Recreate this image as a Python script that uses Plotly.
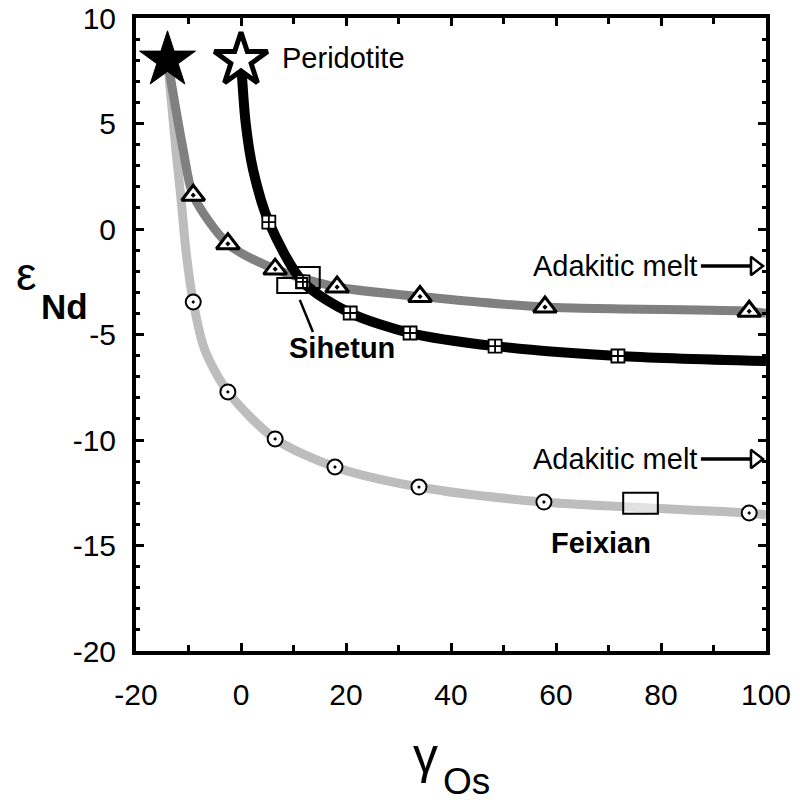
import plotly.graph_objects as go

# ---------------- data ----------------
# black mixing curve (starts at open star "Peridotite")
black_line_x = [0, 0.9, 2.3, 5.3, 11.8, 20.8, 32.2, 48.4, 71.8, 100]
black_line_y = [8, 5.0, 2.8, 0.33, -2.51, -3.98, -4.93, -5.55, -6.02, -6.26]
black_mark_x = [5.3, 11.8, 20.8, 32.2, 48.4, 71.8]
black_mark_y = [0.33, -2.51, -3.98, -4.93, -5.55, -6.02]

# dark grey mixing curve (triangles)
dark_line_x = [-14, -11.0, -9.1, -2.5, 6.5, 18.3, 34.1, 57.9, 96.8, 100]
dark_line_y = [8, 3.74, 1.6, -0.7, -1.9, -2.75, -3.2, -3.7, -3.9, -4.0]
dark_mark_x = [-9.1, -2.5, 6.5, 18.3, 34.1, 57.9, 96.8]
dark_mark_y = [1.6, -0.7, -1.9, -2.75, -3.2, -3.7, -3.9]

# light grey mixing curve (circles)
light_line_x = [-14, -12.4, -11.4, -10.5, -9.1, -6.9, -2.5, 6.5, 17.9, 33.9, 57.7, 96.8, 100]
light_line_y = [8, 3.74, 1.37, -1.0, -3.46, -5.73, -7.72, -9.95, -11.28, -12.23, -12.94, -13.46, -13.55]
light_mark_x = [-9.1, -2.5, 6.5, 17.9, 33.9, 57.7, 96.8]
light_mark_y = [-3.46, -7.72, -9.95, -11.28, -12.23, -12.94, -13.46]

# end-members (stars)
filled_star_x = [-14]
filled_star_y = [8]
open_star_x = [0]
open_star_y = [8]

# sample fields
sihetun_x0 = [10.5, 6.9]
sihetun_x1 = [15.0, 12.6]
sihetun_y0 = [-1.8, -2.32]
sihetun_y1 = [-2.8, -3.03]
feixian_x0, feixian_x1 = 72.8, 79.4
feixian_y0, feixian_y1 = -12.5, -13.5

# adakitic melt arrows
arrow_y = [-1.75, -10.9]

x_ticks = [-20, 0, 20, 40, 60, 80, 100]
x_tick_text = ["-20", "0", "20", "40", "60", "80", "100"]
y_ticks = [-20, -15, -10, -5, 0, 5, 10]
y_tick_text = ["-20", "-15", "-10", "-5", "0", "5", "10"]

FONT = "Liberation Sans, Arial, sans-serif"

fig = go.Figure()

fig.add_trace(go.Scatter(x=light_line_x, y=light_line_y, mode="lines",
                         line=dict(color="#bdbdbd", width=9, shape="spline", smoothing=0.8),
                         hoverinfo="skip"))
fig.add_trace(go.Scatter(x=dark_line_x, y=dark_line_y, mode="lines",
                         line=dict(color="#808080", width=9, shape="spline", smoothing=0.8),
                         hoverinfo="skip"))
fig.add_trace(go.Scatter(x=black_line_x, y=black_line_y, mode="lines",
                         line=dict(color="black", width=10, shape="spline", smoothing=0.8),
                         hoverinfo="skip"))

fig.add_trace(go.Scatter(x=light_mark_x, y=light_mark_y, mode="markers",
                         marker=dict(symbol="circle-dot", size=15, color="white",
                                     line=dict(color="black", width=2))))
fig.add_trace(go.Scatter(x=dark_mark_x, y=dark_mark_y, mode="markers",
                         marker=dict(symbol="triangle-up-dot", size=20, color="white",
                                     line=dict(color="black", width=3))))
fig.add_trace(go.Scatter(x=black_mark_x, y=black_mark_y, mode="markers",
                         marker=dict(symbol="square-cross", size=13, color="white",
                                     line=dict(color="black", width=1.8))))

fig.add_trace(go.Scatter(x=filled_star_x, y=filled_star_y, mode="markers",
                         marker=dict(symbol="star", size=42, color="black",
                                     line=dict(color="black", width=1))))
fig.add_trace(go.Scatter(x=open_star_x, y=open_star_y, mode="markers",
                         marker=dict(symbol="star", size=40, color="white",
                                     line=dict(color="black", width=5))))

# arrows "Adakitic melt ->"
for ay in arrow_y:
    fig.add_trace(go.Scatter(x=[87.6, 97.0], y=[ay, ay], mode="lines",
                             line=dict(color="black", width=3.5), hoverinfo="skip"))
    fig.add_trace(go.Scatter(x=[97.9], y=[ay], mode="markers",
                             marker=dict(symbol="triangle-right-open", size=16,
                                         color="black", line=dict(color="black", width=2.5)),
                             hoverinfo="skip"))
    fig.add_annotation(x=87.3, y=ay, xref="x", yref="y", text="Adakitic melt",
                       showarrow=False, xanchor="right", yanchor="middle",
                       font=dict(family=FONT, size=29, color="black"))

# sample boxes
for x0, x1, y0, y1 in zip(sihetun_x0, sihetun_x1, sihetun_y0, sihetun_y1):
    fig.add_shape(type="rect", xref="x", yref="y", x0=x0, x1=x1, y0=y0, y1=y1,
                  line=dict(color="black", width=2), fillcolor="rgba(0,0,0,0)")
fig.add_shape(type="line", xref="x", yref="y", x0=11.2, y0=-3.36, x1=13.7, y1=-4.88,
              line=dict(color="black", width=2.5))
fig.add_shape(type="rect", xref="x", yref="y", x0=feixian_x0, x1=feixian_x1,
              y0=feixian_y0, y1=feixian_y1,
              line=dict(color="black", width=2), fillcolor="rgba(255,255,255,0.55)")

fig.add_annotation(x=7.4, y=8.1, xref="x", yref="y", text="Peridotite", showarrow=False,
                   xanchor="left", yanchor="middle",
                   font=dict(family=FONT, size=29, color="black"))
fig.add_annotation(x=19.2, y=-5.64, xref="x", yref="y", text="<b>Sihetun</b>", showarrow=False,
                   xanchor="center", yanchor="middle",
                   font=dict(family=FONT, size=29, color="black"))
fig.add_annotation(x=68.6, y=-14.9, xref="x", yref="y", text="<b>Feixian</b>", showarrow=False,
                   xanchor="center", yanchor="middle",
                   font=dict(family=FONT, size=29, color="black"))

# plot-area position on the page (page has an 8px body margin)
OFF = 8
L, R, T, B = 136, 766, 18, 651
def px(xp):
    return (xp - L) / (R - L)
def py(yp):
    return (B - yp) / (B - T)

fig.add_annotation(x=px(26), y=py(274), xref="paper", yref="paper", text="ε",
                   showarrow=False, xanchor="center", yanchor="middle",
                   font=dict(family=FONT, size=46, color="black"))
fig.add_annotation(x=px(64), y=py(306), xref="paper", yref="paper", text="<b>Nd</b>",
                   showarrow=False, xanchor="center", yanchor="middle",
                   font=dict(family=FONT, size=35, color="black"))
fig.add_annotation(x=px(425), y=py(756), xref="paper", yref="paper", text="γ",
                   showarrow=False, xanchor="center", yanchor="middle",
                   font=dict(family=FONT, size=50, color="black"))
fig.add_annotation(x=px(466), y=py(782), xref="paper", yref="paper", text="Os",
                   showarrow=False, xanchor="center", yanchor="middle",
                   font=dict(family=FONT, size=37, color="black"))

axis_common = dict(
    showgrid=False, zeroline=False, showline=True, linecolor="black", linewidth=4,
    mirror="ticks", ticks="inside", tickcolor="black", tickwidth=2.5, ticklen=8,
    tickfont=dict(family=FONT, size=30, color="black"), automargin=False,
    ticklabeloverflow="allow",
)
fig.update_xaxes(range=[-20, 100], tickvals=x_ticks, ticktext=x_tick_text, ticklabelstandoff=14,
                 minor=dict(dtick=10, ticks="inside", ticklen=6, tickwidth=2.5, tickcolor="black"),
                 **axis_common)
fig.update_yaxes(range=[-20, 10], tickvals=y_ticks, ticktext=y_tick_text, ticklabelstandoff=10,
                 minor=dict(dtick=1, ticks="inside", ticklen=4, tickwidth=2.5, tickcolor="black"),
                 **axis_common)

W, H = 800, 803
fig.update_layout(
    width=W, height=H,
    margin=dict(l=L - OFF, r=W - (R - OFF), t=T - OFF, b=H - (B - OFF)),
    paper_bgcolor="white", plot_bgcolor="white",
    showlegend=False,
    font=dict(family=FONT, color="black"),
)

fig.write_html("out.html")
